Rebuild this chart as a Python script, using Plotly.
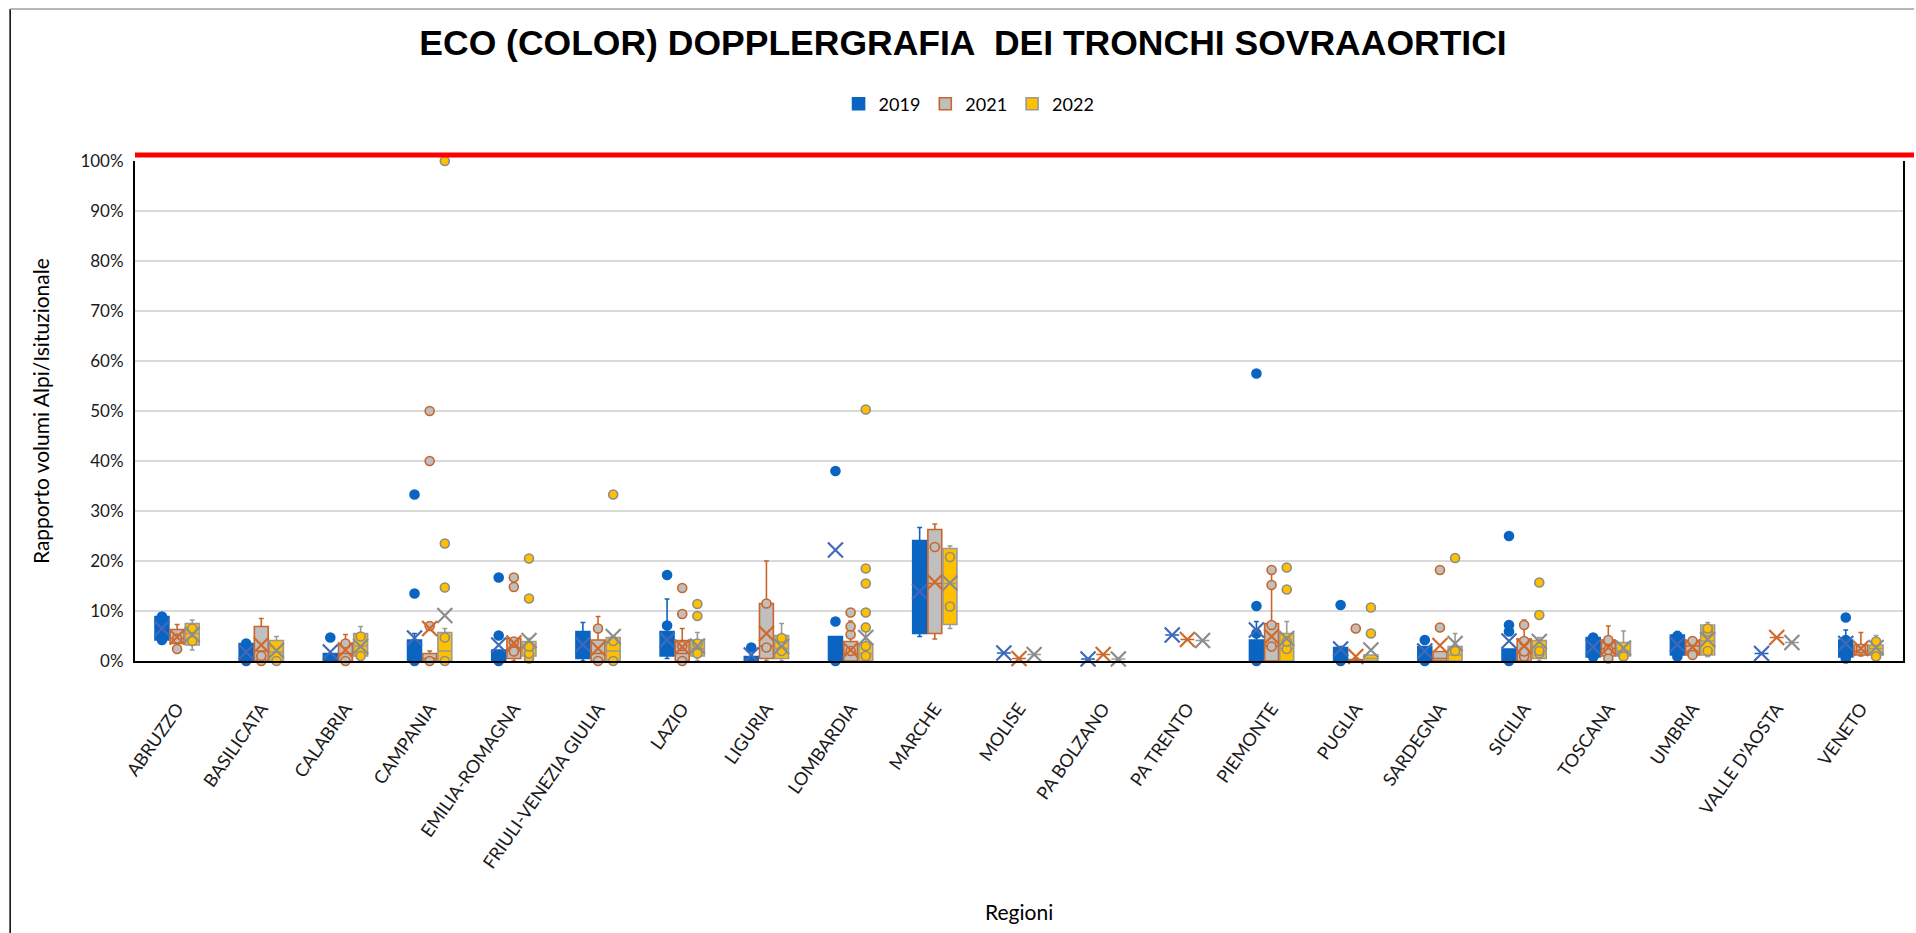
import plotly.graph_objects as go

# ---------------------------------------------------------------- data
REGIONI = ["ABRUZZO", "BASILICATA", "CALABRIA", "CAMPANIA", "EMILIA-ROMAGNA",
           "FRIULI-VENEZIA GIULIA", "LAZIO", "LIGURIA", "LOMBARDIA", "MARCHE",
           "MOLISE", "PA BOLZANO", "PA TRENTO", "PIEMONTE", "PUGLIA", "SARDEGNA",
           "SICILIA", "TOSCANA", "UMBRIA", "VALLE D'AOSTA", "VENETO"]
ANNI = ["2019", "2021", "2022"]

# 2019
MIN_2019 = [.037, 0, 0, 0, 0, 0, .005, 0, 0, .049, .016, .004, .052, 0, 0, 0, 0, .003, .009, .015, .005]
Q1_2019 = [.042, 0, 0, 0, 0, .005, .010, 0, 0, .055, .016, .004, .052, 0, 0, 0, 0, .008, .012, .015, .008]
MEDIANA_2019 = [.060, .012, .005, .020, .010, .030, .035, .005, .020, .125, .016, .004, .052, .020, .010, .010, .010, .030, .030, .015, .030]
Q3_2019 = [.089, .035, .015, .042, .022, .059, .059, .009, .049, .241, .016, .004, .052, .042, .027, .029, .024, .047, .052, .015, .042]
MAX_2019 = [.093, .041, .015, .055, .022, .077, .124, .009, .049, .267, .016, .004, .052, .079, .029, .029, .024, .051, .059, .015, .062]
MEDIA_2019 = [.065, .018, .018, .046, .032, .033, .042, .012, .222, .139, .016, .004, .052, .062, .024, .020, .040, .028, .033, .015, .035]
PUNTI_2019 = [[.042, .060, .089], [0, .035], [.047], [0, .135, .333], [0, .051, .167],
              [.015, .030, .049], [.020, .045, .071, .172], [.027], [0, .030, .079, .380],
              [.077, .130, .162], [], [], [], [0, .055, .110, .575], [0, .112], [0, .042],
              [0, .059, .072, .250], [.008, .047], [.009, .050], [], [.005, .042, .087]]

# 2021
MIN_2021 = [.024, 0, 0, 0, 0, 0, 0, 0, 0, .044, .005, .013, .043, 0, 0, 0, 0, .005, .009, .047, .010]
Q1_2021 = [.035, 0, 0, 0, .005, 0, 0, .005, 0, .055, .005, .013, .043, 0, 0, 0, 0, .010, .012, .047, .012]
MEDIANA_2021 = [.045, .020, .015, .005, .020, .015, .015, .030, .015, .155, .005, .013, .043, .030, 0, .005, .015, .025, .030, .047, .020]
Q3_2021 = [.063, .069, .035, .015, .045, .042, .041, .115, .039, .263, .005, .013, .043, .075, .003, .019, .044, .042, .041, .047, .032]
MAX_2021 = [.073, .085, .053, .020, .045, .089, .065, .200, .080, .274, .005, .013, .043, .182, .005, .019, .082, .070, .045, .047, .057]
MEDIA_2021 = [.048, .032, .022, .065, .036, .025, .028, .055, .022, .158, .005, .013, .043, .049, .009, .031, .030, .027, .028, .047, .025]
PUNTI_2021 = [[.024, .045], [0, .010], [0, .035], [0, .070, .400, .500], [.019, .039, .148, .167],
              [0, .065], [0, .030, .094, .146], [.027, .115], [.020, .053, .069, .097],
              [.228], [], [], [], [.029, .072, .152, .182], [.065], [.067, .182],
              [.009, .019, .040, .072], [.005, .022, .042], [.012, .040], [], [.025]]

# 2022
MIN_2022 = [.022, 0, .005, 0, .005, 0, 0, 0, 0, .065, .013, .004, .041, 0, 0, 0, 0, .005, .009, .037, .009]
Q1_2022 = [.032, 0, .010, 0, .010, 0, .010, .005, 0, .073, .013, .004, .041, 0, 0, 0, .005, .010, .012, .037, .012]
MEDIANA_2022 = [.055, .018, .030, .020, .025, .020, .025, .025, .015, .155, .013, .004, .041, .025, .005, .012, .020, .020, .040, .037, .025]
Q3_2022 = [.075, .041, .055, .057, .039, .047, .042, .051, .033, .225, .013, .004, .041, .055, .012, .029, .041, .037, .072, .037, .032]
MAX_2022 = [.082, .049, .069, .065, .045, .047, .057, .075, .075, .230, .013, .004, .041, .079, .012, .055, .047, .060, .077, .037, .051]
MEDIA_2022 = [.053, .021, .029, .091, .041, .049, .030, .029, .047, .156, .013, .004, .041, .045, .022, .035, .039, .026, .043, .037, .027]
PUNTI_2022 = [[.040, .065], [0], [.010, .049], [0, .047, .147, .235, 1.0], [.005, .015, .029, .125, .205],
              [0, .040, .333], [.015, .035, .090, .114], [.020, .046],
              [.010, .030, .067, .097, .155, .185, .503], [.109, .208], [], [], [],
              [.024, .039, .143, .187], [.055, .107], [.020, .206], [.015, .020, .092, .157],
              [.009], [.020, .059, .065], [], [.009, .039]]

# ---------------------------------------------------------------- styles
W, H = 1916, 933
ML, MR, MT, MB = 135, 11, 161, 272
PW, PH = W - ML - MR, H - MT - MB

SERIE = [
    dict(nome="2019", lo=MIN_2019, q1=Q1_2019, med=MEDIANA_2019, q3=Q3_2019, hi=MAX_2019,
         media=MEDIA_2019, punti=PUNTI_2019, off=-0.18,
         fill="#0A64C2", line="#0A64C2", pfill="#0A64C2", pline="#0A64C2", xcol="#4169B8"),
    dict(nome="2021", lo=MIN_2021, q1=Q1_2021, med=MEDIANA_2021, q3=Q3_2021, hi=MAX_2021,
         media=MEDIA_2021, punti=PUNTI_2021, off=0.0,
         fill="#BFBFBF", line="#C8652A", pfill="#BFBFBF", pline="#C8652A", xcol="#D0692A"),
    dict(nome="2022", lo=MIN_2022, q1=Q1_2022, med=MEDIANA_2022, q3=Q3_2022, hi=MAX_2022,
         media=MEDIA_2022, punti=PUNTI_2022, off=0.18,
         fill="#FFC000", line="#9A9A9A", pfill="#FFC000", pline="#8C8C8C", xcol="#8C8C8C"),
]
FONT = "Lato"


def px_x(X):
    return (X - ML) / PW


def px_y(Y):
    return (H - MB - Y) / PH


fig = go.Figure()

for s in SERIE:
    pos = [i + s["off"] for i in range(len(REGIONI))]
    fig.add_trace(go.Box(
        name=s["nome"], x=pos,
        q1=s["q1"], median=s["med"], q3=s["q3"],
        lowerfence=s["lo"], upperfence=s["hi"],
        width=0.165, whiskerwidth=0.35, boxpoints=False,
        fillcolor=s["fill"], line=dict(color=s["line"], width=1.6),
        hoverinfo="skip", showlegend=True,
    ))

for s in SERIE:
    xs, ys = [], []
    for i, vals in enumerate(s["punti"]):
        for v in vals:
            xs.append(i + s["off"])
            ys.append(v)
    fig.add_trace(go.Scatter(
        x=xs, y=ys, mode="markers", showlegend=False, cliponaxis=False, hoverinfo="skip",
        marker=dict(symbol="circle", size=9, color=s["pfill"],
                    line=dict(color=s["pline"], width=1.6)),
    ))

for s in SERIE:
    pos = [i + s["off"] for i in range(len(REGIONI))]
    fig.add_trace(go.Scatter(
        x=pos, y=s["media"], mode="markers", showlegend=False, cliponaxis=False,
        hoverinfo="skip",
        marker=dict(symbol="x-thin", size=15, line=dict(color=s["xcol"], width=2.2)),
    ))

shapes = [
    # red line across the top of the plot
    dict(type="line", xref="paper", yref="paper", x0=0, x1=px_x(W), y0=px_y(155), y1=px_y(155),
         line=dict(color="#FF0000", width=5), layer="above"),
    # outer chart frame (left and top edges)
    dict(type="line", xref="paper", yref="paper", x0=px_x(10), x1=px_x(10), y0=px_y(H), y1=px_y(9),
         line=dict(color="#000000", width=1.5)),
    dict(type="line", xref="paper", yref="paper", x0=px_x(10), x1=px_x(W), y0=px_y(9), y1=px_y(9),
         line=dict(color="#A0A0A0", width=1.5)),
]

annotations = [
    dict(text="Rapporto volumi Alpi/Isituzionale", xref="paper", yref="paper",
         x=px_x(40), y=0.5, textangle=-90, showarrow=False,
         font=dict(family=FONT, size=21, color="#000000"), xanchor="center", yanchor="middle"),
    dict(text="Regioni", xref="paper", yref="paper", x=0.5, y=px_y(911), showarrow=False,
         font=dict(family=FONT, size=21, color="#000000"), xanchor="center", yanchor="middle"),
]

fig.update_layout(
    width=W, height=H,
    margin=dict(l=ML, r=MR, t=MT, b=MB),
    paper_bgcolor="white", plot_bgcolor="white",
    boxmode="overlay",
    title=dict(text="<b>ECO (COLOR) DOPPLERGRAFIA  DEI TRONCHI SOVRAAORTICI</b>",
               xref="container", yref="container", x=963 / W, y=1 - 43 / H,
               xanchor="center", yanchor="middle",
               font=dict(family="Liberation Sans", size=35.5, color="#000000")),
    legend=dict(orientation="h", x=px_x(970), y=px_y(104), xanchor="center", yanchor="middle",
                font=dict(family=FONT, size=18, color="#000000"), itemwidth=30,
                bgcolor="rgba(0,0,0,0)"),
    shapes=shapes, annotations=annotations,
    xaxis=dict(range=[-0.5, len(REGIONI) - 0.5], tickvals=list(range(len(REGIONI))),
               ticktext=REGIONI, tickangle=-55, ticks="", showgrid=False, zeroline=False,
               showline=True, linecolor="#000000", linewidth=2, ticklabelstandoff=28,
               tickfont=dict(family=FONT, size=18, color="#1A1A1A")),
    yaxis=dict(range=[0, 1], dtick=0.1, tickformat=".0%", showgrid=True,
               gridcolor="#D9D9D9", gridwidth=1.5, zeroline=False,
               showline=True, linecolor="#000000", linewidth=2, mirror=True,
               ticks="", ticklabelstandoff=6,
               tickfont=dict(family=FONT, size=17, color="#1A1A1A")),
)

fig.write_html("out.html")
